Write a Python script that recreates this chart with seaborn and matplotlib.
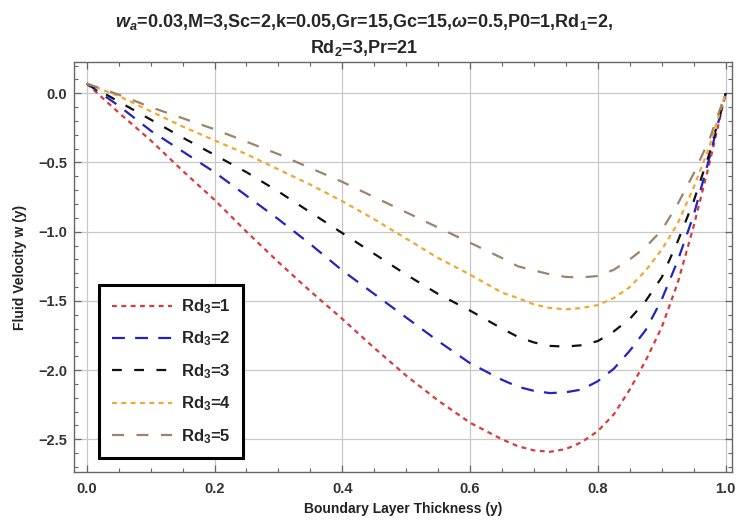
import numpy as np
import pandas as pd
import matplotlib
matplotlib.use("Agg")
import matplotlib.pyplot as plt
import seaborn as sns
from matplotlib.ticker import MultipleLocator, FuncFormatter

# Boundary layer coordinate
y_pos = [0.00, 0.05, 0.10, 0.15, 0.20, 0.25, 0.30, 0.35, 0.40, 0.45, 0.50,
         0.55, 0.60, 0.65, 0.675, 0.70, 0.725, 0.75, 0.775, 0.80, 0.825,
         0.85, 0.875, 0.90, 0.925, 0.95, 0.975, 1.00]

# Fluid velocity w(y) for each Rd3 value
w_rd3_1 = [0.07, -0.14, -0.34, -0.56, -0.77, -1.00, -1.22, -1.43, -1.63, -1.84, -2.04,
           -2.22, -2.38, -2.50, -2.55, -2.58, -2.59, -2.57, -2.52, -2.44, -2.32,
           -2.14, -1.93, -1.69, -1.37, -0.96, -0.50, 0.0]
w_rd3_2 = [0.07, -0.09, -0.27, -0.42, -0.57, -0.74, -0.91, -1.09, -1.28, -1.45, -1.62,
           -1.79, -1.95, -2.07, -2.12, -2.15, -2.166, -2.16, -2.14, -2.08, -1.99,
           -1.86, -1.71, -1.49, -1.21, -0.88, -0.46, 0.0]
w_rd3_3 = [0.07, -0.06, -0.19, -0.32, -0.445, -0.57, -0.71, -0.86, -1.01, -1.16, -1.31,
           -1.45, -1.57, -1.70, -1.76, -1.80, -1.825, -1.83, -1.82, -1.79, -1.72,
           -1.63, -1.50, -1.33, -1.07, -0.78, -0.43, 0.0]
w_rd3_4 = [0.07, -0.02, -0.13, -0.24, -0.34, -0.44, -0.55, -0.66, -0.78, -0.91, -1.05,
           -1.19, -1.31, -1.44, -1.48, -1.525, -1.551, -1.561, -1.551, -1.53, -1.479,
           -1.40, -1.28, -1.13, -0.94, -0.68, -0.38, 0.0]
w_rd3_5 = [0.07, -0.01, -0.10, -0.18, -0.26, -0.35, -0.44, -0.54, -0.64, -0.75, -0.86,
           -0.97, -1.08, -1.19, -1.25, -1.28, -1.308, -1.327, -1.33, -1.32, -1.275,
           -1.20, -1.11, -0.99, -0.80, -0.58, -0.33, 0.0]

labels = ["Rd$_3$=1", "Rd$_3$=2", "Rd$_3$=3", "Rd$_3$=4", "Rd$_3$=5"]
series = [w_rd3_1, w_rd3_2, w_rd3_3, w_rd3_4, w_rd3_5]

colors = ["#D93A3C", "#2323C4", "#111111", "#F0A832", "#9C8468"]
dash_styles = [(2.2, 2.0), (5.8, 4.6), (4.4, 5.6), (2.2, 2.0), (5.4, 5.6)]

df = pd.DataFrame({
    "y": np.tile(y_pos, len(series)),
    "w": np.concatenate(series),
    "case": np.repeat(labels, len(y_pos)),
})

sns.set_theme(style="white")
plt.rcParams["font.family"] = ["Liberation Sans", "DejaVu Sans"]
plt.rcParams["mathtext.fontset"] = "custom"
plt.rcParams["mathtext.rm"] = "Liberation Sans:bold"
plt.rcParams["mathtext.it"] = "Liberation Sans:bold:italic"
plt.rcParams["mathtext.bf"] = "Liberation Sans:bold"
plt.rcParams["mathtext.sf"] = "Liberation Sans:bold"

fig, ax = plt.subplots(figsize=(7.36, 5.26), dpi=100)
fig.subplots_adjust(left=74 / 736, right=732 / 736, top=1 - 62 / 526, bottom=1 - 472 / 526)

sns.lineplot(
    data=df, x="y", y="w", hue="case", style="case",
    palette=dict(zip(labels, colors)), dashes=dict(zip(labels, dash_styles)),
    linewidth=1.6, estimator=None, sort=False, ax=ax,
)

ax.set_xlim(-0.02, 1.01)
ax.set_ylim(-2.736, 0.226)
ax.xaxis.set_major_locator(MultipleLocator(0.2))
ax.xaxis.set_minor_locator(MultipleLocator(0.05))
ax.yaxis.set_major_locator(MultipleLocator(0.5))
ax.yaxis.set_minor_locator(MultipleLocator(0.1))
fmt = FuncFormatter(lambda v, _: f"{v:.1f}".replace("-", "\u2212"))
ax.xaxis.set_major_formatter(fmt)
ax.yaxis.set_major_formatter(fmt)

ax.grid(True, which="major", color="#c8c8c8", linewidth=0.9)
ax.set_axisbelow(True)
for sp in ax.spines.values():
    sp.set_color("#666666")
    sp.set_linewidth(1.0)
ax.tick_params(which="both", direction="in", bottom=True, left=True, top=True, right=True,
               color="#666666")
ax.tick_params(which="major", length=5, width=0.9)
ax.tick_params(which="minor", length=3, width=0.8)
ax.tick_params(axis="x", which="major", pad=7, labelsize=10.5, labelcolor="#333333")
ax.tick_params(axis="y", which="major", pad=5, labelsize=10.5, labelcolor="#333333")
for lab in ax.get_xticklabels() + ax.get_yticklabels():
    lab.set_fontweight("bold")

ax.set_xlabel("Boundary Layer Thickness (y)", fontsize=10, fontweight="bold", color="#222222")
ax.set_ylabel("Fluid Velocity w (y)", fontsize=10, fontweight="bold", color="#222222")
ax.xaxis.set_label_coords(0.5, -0.072)
ax.yaxis.set_label_coords(-0.072, 0.5)

fig.text(
    364 / 736, 1 - 35 / 526,
    "$w_a$=0.03,M=3,Sc=2,k=0.05,Gr=15,Gc=15,$\\omega$=0.5,P0=1,Rd$_1$=2,\nRd$_2$=3,Pr=21",
    ha="center", va="center", fontsize=13, fontweight="bold", linespacing=1.35,
)

handles, _ = ax.get_legend_handles_labels()
leg = ax.legend(
    handles, labels, loc="lower left", bbox_to_anchor=(0.038, 0.034),
    borderaxespad=0, frameon=True, fancybox=False, framealpha=1,
    edgecolor="black", prop={"size": 12, "weight": "bold"},
    handlelength=3.6, handletextpad=0.55, labelspacing=0.82, borderpad=0.75,
)
leg.get_frame().set_linewidth(2.2)

fig.savefig("out.png", dpi=100)
